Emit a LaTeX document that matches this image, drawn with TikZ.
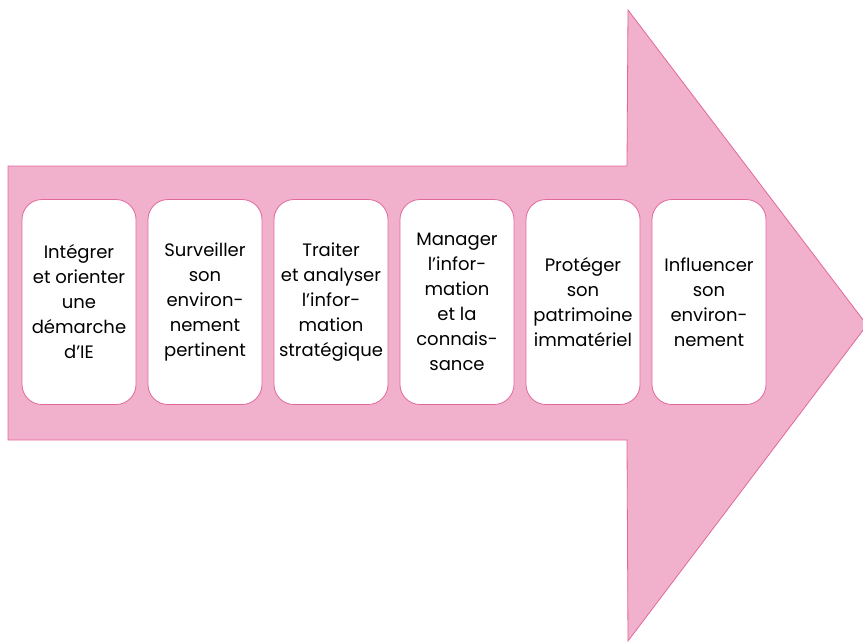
\documentclass[tikz,border=0pt]{standalone}
\usepackage{fontspec}
\setmainfont{Poppins}
\definecolor{arrowpink}{RGB}{241,176,204}
\definecolor{edgepink}{RGB}{226,104,156}
\begin{document}
\begin{tikzpicture}
  [x=1pt,y=-1pt,every node/.style={font=\fontsize{18}{25}\selectfont,align=center},
   stage/.style={draw=edgepink,fill=white,line width=.8pt,rounded corners=20pt,
     minimum width=114pt,minimum height=205pt,inner sep=0pt}]
 \useasboundingbox (0,0) rectangle (863,641);
 % big arrow
 \draw[edgepink,fill=arrowpink,line width=.8pt] (8,166) -- (627,166) -- (628,10)
   -- (867,325) -- (628,641) -- (627,440) -- (8,440) -- cycle;
 % stages
 \node (s1)[stage] at (79,302) {Intégrer\\et orienter\\une\\démarche\\d’IE};
 \node (s2)[stage] at (205,302) {Surveiller\\son\\environ-\\nement\\pertinent};
 \node (s3)[stage] at (331,302) {Traiter\\et analyser\\l’infor-\\mation\\stratégique};
 \node (s4)[stage] at (457,302) {Manager\\l’infor-\\mation\\et la\\connais-\\sance};
 \node (s5)[stage] at (583,302) {Protéger\\son\\patrimoine\\immatériel};
 \node (s6)[stage] at (709,302) {Influencer\\son\\environ-\\nement};
\end{tikzpicture}
\end{document}
